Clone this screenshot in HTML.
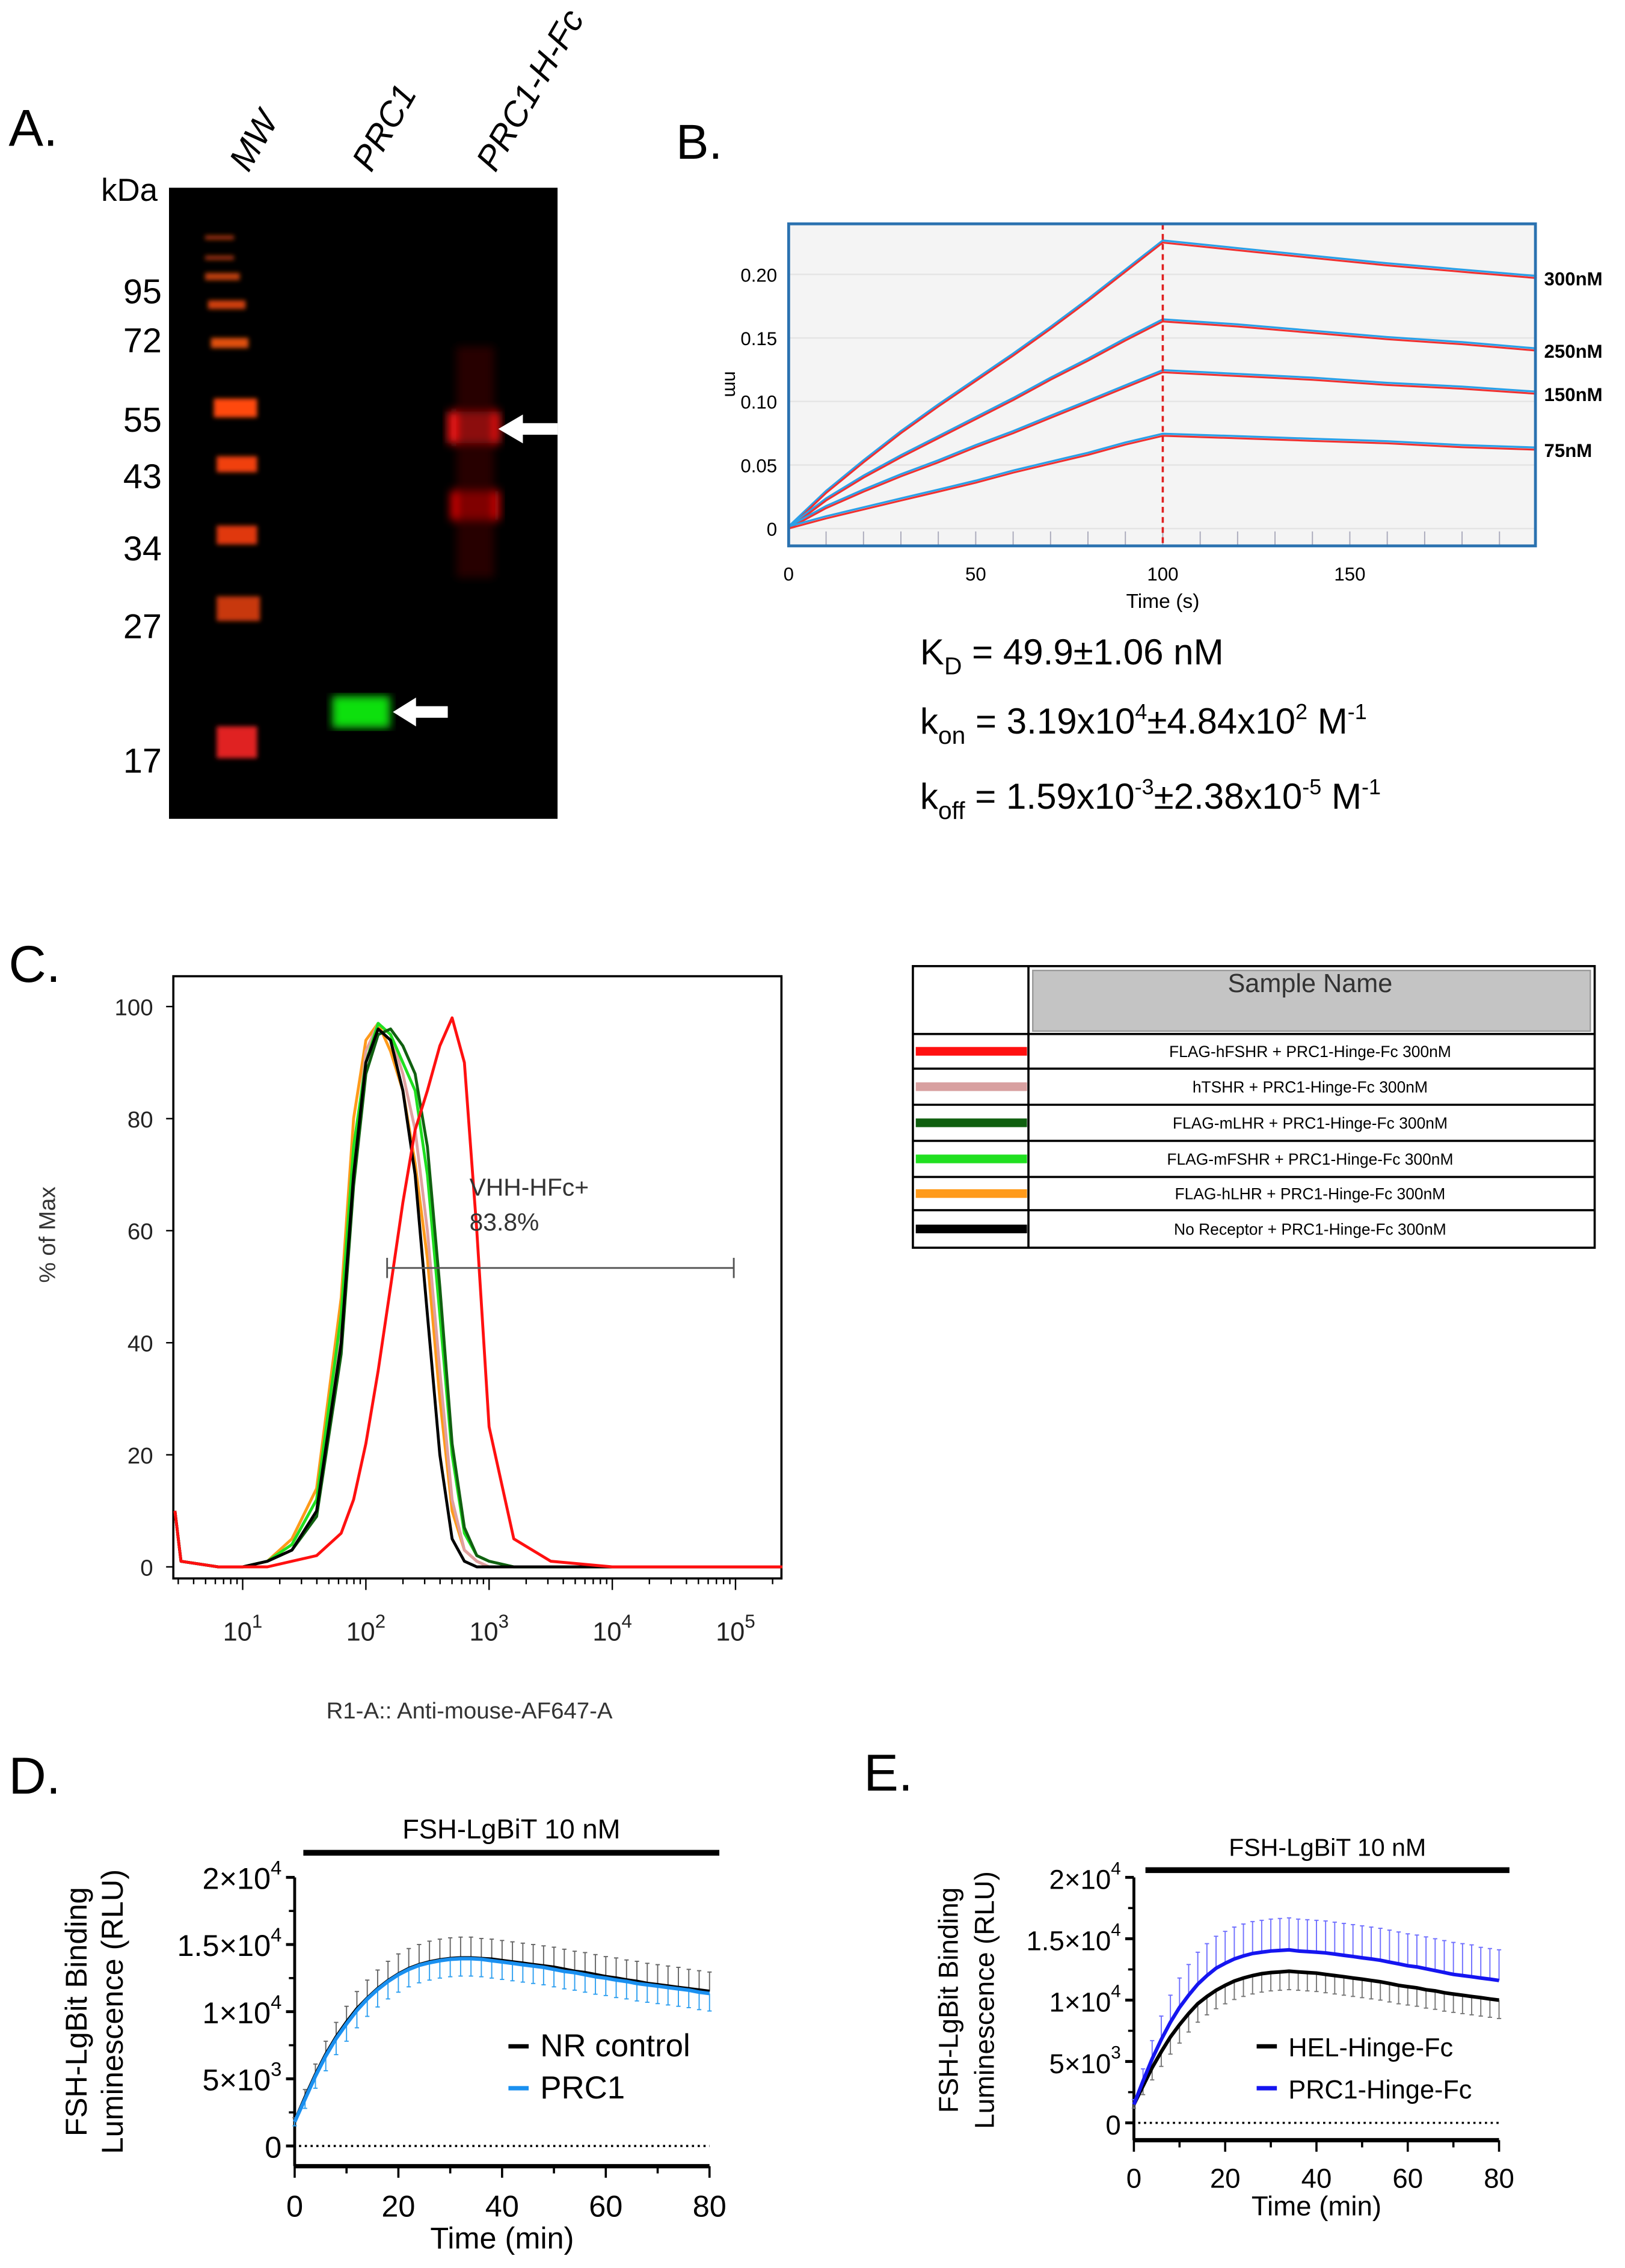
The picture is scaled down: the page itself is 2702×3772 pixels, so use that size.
<!DOCTYPE html>
<html><head><meta charset="utf-8"><style>
html,body{margin:0;padding:0;background:#fff;}
svg{display:block;}
text{font-family:"Liberation Sans",sans-serif;}
</style></head><body>
<svg id="fig" xmlns="http://www.w3.org/2000/svg" width="2702" height="3772" viewBox="0 0 1125 1570.5">
<rect width="1125" height="1570.5" fill="#fff"/>
<defs>
<filter id="blur2"><feGaussianBlur stdDeviation="3"/></filter>
<filter id="blur1"><feGaussianBlur stdDeviation="1.5"/></filter>
</defs>
<g>
<text x="6" y="101" font-size="36">A.</text>
<text x="70" y="139" font-size="22">kDa</text>
<text transform="translate(172,120) rotate(-60)" font-size="24" font-style="italic">MW</text>
<text transform="translate(257,120) rotate(-60)" font-size="24" font-style="italic">PRC1</text>
<text transform="translate(343,120) rotate(-60)" font-size="24" font-style="italic">PRC1-H-Fc</text>
<g font-size="24" text-anchor="end">
<text x="112" y="210">95</text><text x="112" y="244">72</text><text x="112" y="299">55</text><text x="112" y="338">43</text><text x="112" y="388">34</text><text x="112" y="442">27</text><text x="112" y="535">17</text>
</g>
<rect x="117" y="130" width="269" height="437" fill="#000"/>
<g filter="url(#blur1)">
<rect x="142" y="163" width="20" height="3" fill="#a03010"/>
<rect x="142" y="177" width="20" height="3" fill="#a03010"/>
<rect x="142" y="189" width="24" height="5" fill="#c04010"/>
<rect x="144" y="208" width="26" height="6" fill="#d04010"/>
<rect x="146" y="234" width="26" height="7" fill="#e05010"/>
<rect x="148" y="276" width="30" height="13" fill="#ff4810"/>
<rect x="150" y="316" width="28" height="11" fill="#f04010"/>
<rect x="150" y="364" width="28" height="13" fill="#e03810"/>
<rect x="150" y="413" width="30" height="17" fill="#c83810"/>
<rect x="150" y="503" width="28" height="22" fill="#e02020"/>
</g>
<g filter="url(#blur2)">
<rect x="310" y="285" width="36" height="22" fill="#ff1515"/>
<rect x="312" y="340" width="34" height="20" fill="#e01010"/>
<rect x="316" y="240" width="26" height="160" fill="#400000" opacity="0.6"/>
</g>
<rect x="230" y="482" width="40" height="22" fill="#10e010" filter="url(#blur2)"/>
<polygon points="345,297 362,287 362,293 386,293 386,301 362,301 362,307" fill="#fff"/>
<polygon points="272,493 288,483 288,489 310,489 310,497 288,497 288,503" fill="#fff"/>
</g>
<g id="panelB">
<text x="468" y="110" font-size="34">B.</text>
</g>
<g id="panelC">
<text x="6" y="680" font-size="36">C.</text>
</g>
<g id="legendC"></g>
<g id="panelD">
<text x="6" y="1242" font-size="36">D.</text>
</g>
<g id="panelE">
<text x="598" y="1240" font-size="36">E.</text>
</g>
</svg>
<script>
const NS='http://www.w3.org/2000/svg';
function mk(parent,tag,attrs,txt){const e=document.createElementNS(NS,tag);for(const k in attrs)e.setAttribute(k,attrs[k]);if(txt!==undefined)e.textContent=txt;parent.appendChild(e);return e;}

const bTimes=[0,10,20,30,40,50,60,70,80,90,100,120,140,160,180,200];
const b300=[0,0.028,0.052,0.075,0.096,0.116,0.136,0.157,0.179,0.202,0.225,0.219,0.213,0.207,0.202,0.197];
const b250=[0,0.022,0.040,0.056,0.071,0.086,0.101,0.117,0.132,0.148,0.163,0.159,0.154,0.149,0.145,0.140];
const b150=[0,0.016,0.029,0.041,0.052,0.064,0.075,0.087,0.099,0.111,0.123,0.120,0.117,0.113,0.110,0.106];
const b75=[0,0.008,0.015,0.022,0.029,0.036,0.044,0.051,0.058,0.066,0.073,0.071,0.069,0.067,0.064,0.062];
const bSeriesLabels=['300nM','250nM','150nM','75nM'];
const bYTicks=[0,0.05,0.10,0.15,0.20];
const bYTickLabels=['0','0.05','0.10','0.15','0.20'];
const bXTicks=[0,50,100,150];

const cLogX=[0.45,0.5,0.8,1.0,1.2,1.4,1.6,1.8,1.9,2.0,2.1,2.2,2.3,2.4,2.5,2.6,2.7,2.8,2.9,3.0,3.2,3.5,4,5,5.38];
const cBlack=[10,1,0,0,1,3,10,40,70,90,96,94,85,70,45,20,5,1,0,0,0,0,0,0,0];
const cGreen=[10,1,0,0,1,4,12,45,75,90,97,95,90,85,70,45,20,6,2,1,0,0,0,0,0];
const cDkGreen=[10,1,0,0,1,3,9,38,68,88,95,96,93,88,75,50,22,7,2,1,0,0,0,0,0];
const cPink=[10,1,0,0,1,4,12,44,72,92,97,95,88,78,60,35,12,3,1,0,0,0,0,0,0];
const cOrange=[10,1,0,0,1,5,14,48,80,94,97,92,85,72,55,30,10,3,1,0,0,0,0,0,0];
const cRed=[10,1,0,0,0,1,2,6,12,22,35,50,65,78,85,93,98,90,60,25,5,1,0,0,0];
const cYTicks=[0,20,40,60,80,100];
const cXDecades=[1,2,3,4,5];
const cLegendNames=['FLAG-hFSHR + PRC1-Hinge-Fc 300nM','hTSHR + PRC1-Hinge-Fc 300nM','FLAG-mLHR + PRC1-Hinge-Fc 300nM','FLAG-mFSHR + PRC1-Hinge-Fc 300nM','FLAG-hLHR + PRC1-Hinge-Fc 300nM','No Receptor + PRC1-Hinge-Fc 300nM'];

const dTimes=[0,2,4,6,8,10,12,14,16,18,20,22,24,26,28,30,32,34,36,38,40,42,44,46,48,50,52,54,56,58,60,62,64,66,68,70,72,74,76,78,80];
const dNR=[1800,3600,5300,6800,8100,9200,10200,11000,11700,12300,12800,13200,13500,13700,13850,13950,14000,14000,13950,13900,13800,13700,13600,13500,13400,13300,13150,13000,12900,12750,12600,12500,12350,12250,12100,12000,11900,11800,11700,11600,11500];
const dNRsd=[300,600,800,1000,1100,1200,1300,1350,1400,1450,1500,1500,1500,1550,1550,1550,1550,1550,1500,1500,1500,1500,1500,1500,1500,1500,1500,1500,1500,1500,1500,1500,1500,1500,1500,1500,1500,1500,1450,1450,1450];
const dPRC=[1800,3500,5200,6700,8000,9100,10100,10950,11650,12250,12750,13150,13450,13650,13800,13900,13950,13950,13900,13800,13700,13600,13500,13400,13300,13150,13000,12900,12750,12600,12500,12350,12250,12100,12000,11900,11800,11700,11600,11450,11350];
const dPRCsd=[300,700,900,1100,1200,1300,1300,1300,1300,1300,1300,1300,1300,1300,1300,1300,1300,1300,1300,1300,1300,1300,1300,1300,1300,1300,1300,1300,1300,1300,1300,1300,1300,1300,1300,1300,1300,1300,1300,1300,1300];
const yTicksDE=[0,5000,10000,15000,20000];
const yTickLabelsDE=[['0',''],['5×10','3'],['1×10','4'],['1.5×10','4'],['2×10','4']];
const xTicksDE=[0,20,40,60,80];

const eTimes=dTimes;
const eHEL=[1500,3000,4500,5800,7000,8000,8900,9700,10300,10800,11200,11550,11800,12000,12150,12250,12300,12350,12300,12250,12200,12100,12000,11900,11800,11700,11600,11500,11350,11200,11100,11000,10850,10750,10600,10500,10400,10300,10200,10100,10000];
const eHELsd=[300,700,1000,1200,1400,1500,1500,1500,1500,1500,1500,1500,1500,1500,1500,1500,1500,1500,1500,1500,1500,1500,1500,1500,1500,1500,1500,1500,1500,1500,1500,1500,1500,1500,1500,1500,1500,1500,1500,1500,1500];
const ePRC=[1500,3400,5200,6800,8200,9400,10400,11300,12000,12600,13000,13350,13600,13800,13900,14000,14050,14100,14000,13950,13900,13850,13750,13650,13550,13450,13350,13250,13100,12950,12800,12700,12550,12400,12250,12100,12000,11900,11800,11700,11600];
const ePRCsd=[400,1000,1500,1900,2200,2400,2500,2600,2600,2600,2600,2600,2600,2600,2600,2600,2600,2600,2600,2600,2600,2600,2600,2600,2600,2600,2600,2600,2600,2600,2600,2600,2600,2600,2600,2600,2600,2600,2500,2500,2500];

(function(){
const g=document.getElementById('panelB');
const X0=546,X1=1063,Y0=155,Y1=378;
const xs=t=>546+t*2.59, ys=v=>366-v*880;
const bg=mk(g,'rect',{x:X0,y:Y0,width:X1-X0,height:Y1-Y0,fill:'#f4f4f4'});

bYTicks.forEach((v,i)=>{
  const l=mk(g,'line',{x1:X0,x2:X1,y1:ys(v),y2:ys(v),stroke:'#e4e4e4','stroke-width':1});
  
  const t=mk(g,'text',{x:538,y:ys(v)+5,'font-size':13,'text-anchor':'end'},bYTickLabels[i]);
  
});
bXTicks.forEach(v=>{
  const t=mk(g,'text',{x:xs(v),y:402,'font-size':13,'text-anchor':'middle'},String(v));
  
});
for(let t=10;t<200;t+=10){const l=mk(g,'line',{x1:xs(t),x2:xs(t),y1:Y1-10,y2:Y1,stroke:'#aab',"stroke-width":0.8});}
const xt=mk(g,'text',{x:805,y:421,'font-size':14,'text-anchor':'middle'},'Time (s)');
const yt=mk(g,'text',{transform:'translate(502,266) rotate(90)','font-size':13,'text-anchor':'middle'},'nm');
const series=[b300,b250,b150,b75];
series.forEach((s,k)=>{
  let pb='',pr='';
  s.forEach((v,i)=>{const x=xs(bTimes[i]),y=ys(v);pr+=(i?'L':'M')+x.toFixed(1)+','+y.toFixed(1);pb+=(i?'L':'M')+x.toFixed(1)+','+(y-1.5).toFixed(1);});
  const b=mk(g,'path',{d:pb,fill:'none',stroke:'#2aa0e8','stroke-width':1.4});
  const r=mk(g,'path',{d:pr,fill:'none',stroke:'#f03030','stroke-width':1.3});
  const lt=mk(g,'text',{x:1069,y:ys(s[s.length-1])+5,'font-size':13,'font-weight':'bold'},bSeriesLabels[k]);
});
const vl=mk(g,'line',{x1:xs(100),x2:xs(100),y1:Y0,y2:Y1,stroke:'#e02020','stroke-width':1.5,'stroke-dasharray':'4,3'});
const fr=mk(g,'rect',{x:X0,y:Y0,width:X1-X0,height:Y1-Y0,fill:'none',stroke:'#2b72b0','stroke-width':2});
const ys2=[460,508,560];
const rows=[
 [['K'],['D','sub'],[' = 49.9±1.06 nM']],
 [['k'],['on','sub'],[' = 3.19x10'],['4','sup'],['±4.84x10'],['2','sup'],[' M'],['-1','sup']],
 [['k'],['off','sub'],[' = 1.59x10'],['-3','sup'],['±2.38x10'],['-5','sup'],[' M'],['-1','sup']]];
const names=['kd-value','kon-value','koff-value'];
rows.forEach((r,i)=>{
  const t=mk(g,'text',{x:637,y:ys2[i],'font-size':25});
  r.forEach(p=>{const a={};if(p[1]==='sub'){a.dy=7;a['font-size']=17;}else if(p[1]==='sup'){a.dy=-10;a['font-size']=15;}
    mk(t,'tspan',a,p[0]);
    if(p[1]){mk(t,'tspan',{dy:(p[1]==='sub'?-7:10)},'\u200b');}
  });
});
})();

(function(){
const g=document.getElementById('panelC');
const X0=120,X1=541,Y0=676,Y1=1093;
const xs=l=>168+(l-1)*85.3, ys=v=>1085-v*3.88;
const fr=mk(g,'rect',{x:X0,y:Y0,width:X1-X0,height:Y1-Y0,fill:'none',stroke:'#000','stroke-width':1.5});
cYTicks.forEach(v=>{
  const t=mk(g,'text',{x:106,y:ys(v)+6,'font-size':16,'text-anchor':'end',fill:'#222'},String(v));
  const l=mk(g,'line',{x1:X0-5,x2:X0,y1:ys(v),y2:ys(v),stroke:'#000'});
});
cXDecades.forEach(d=>{
  const t=mk(g,'text',{x:xs(d),y:1136,'font-size':18,'text-anchor':'middle',fill:'#222'});
  mk(t,'tspan',{},'10');mk(t,'tspan',{dy:-9,'font-size':13},String(d));
});
for(let d=0;d<=5;d++){for(let m=1;m<10;m++){const l=d+Math.log10(m);const x=xs(l);if(x<X0||x>X1)continue;
  const tk=mk(g,'line',{x1:x,x2:x,y1:Y1,y2:Y1+(m===1?8:4),stroke:'#000'});}}
const yt=mk(g,'text',{transform:'translate(38,855) rotate(-90)','font-size':16,'text-anchor':'middle',fill:'#333'},'% of Max');
const xt=mk(g,'text',{x:325,y:1190,'font-size':16,'text-anchor':'middle',fill:'#333'},'R1-A:: Anti-mouse-AF647-A');
const series=[[cOrange,'#ff9a1a','hist-flag-hlhr'],[cPink,'#e0a0a0','hist-htshr'],[cGreen,'#20e020','hist-flag-mfshr'],[cDkGreen,'#106010','hist-flag-mlhr'],[cBlack,'#000','hist-no-receptor'],[cRed,'#ff1010','hist-flag-hfshr']];
series.forEach(s=>{
  let d='';s[0].forEach((v,i)=>{d+=(i?'L':'M')+Math.max(X0,xs(cLogX[i])).toFixed(1)+','+ys(v).toFixed(1);});
  const p=mk(g,'path',{d:d,fill:'none',stroke:s[1],'stroke-width':2,'stroke-linejoin':'round'});
});
const gl=mk(g,'line',{x1:268,x2:508,y1:878,y2:878,stroke:'#555','stroke-width':1.2});
[268,508].forEach(x=>{const e=mk(g,'line',{x1:x,x2:x,y1:871,y2:885,stroke:'#555','stroke-width':1.2});});
const g1=mk(g,'text',{x:325,y:828,'font-size':17,fill:'#333'},'VHH-HFc+');
const g2=mk(g,'text',{x:325,y:852,'font-size':17,fill:'#333'},'83.8%');

const L=document.getElementById('legendC');
const colors=['#ff1010','#d8a0a0','#106010','#20e020','#ff9a1a','#000'];
const rowY=[716,740,765,790,815,838,864];
const o=mk(L,'rect',{x:632,y:669,width:472,height:195,fill:'#fff',stroke:'#000','stroke-width':1.5});
const hb=mk(L,'rect',{x:715,y:672,width:386,height:42,fill:'#c4c4c4',stroke:'#999'});
const ht=mk(L,'text',{x:907,y:687,'font-size':18,'text-anchor':'middle',fill:'#333'},'Sample Name');
const vl=mk(L,'line',{x1:712,x2:712,y1:669,y2:864,stroke:'#000','stroke-width':1.5});
cLegendNames.forEach((n,i)=>{
  const y0=rowY[i],y1=rowY[i+1];
  const hl=mk(L,'line',{x1:632,x2:1104,y1:y0,y2:y0,stroke:'#000','stroke-width':1.5});
  const sw=mk(L,'rect',{x:634,y:(y0+y1)/2-3,width:77,height:6,fill:colors[i]});
  const t=mk(L,'text',{x:907,y:(y0+y1)/2+4,'font-size':11,'text-anchor':'middle'},n);
});
})();

function timecourse(gid,cfg){
const g=document.getElementById(gid);
const xs=t=>cfg.x0+t*cfg.xk, ys=v=>cfg.y0-v*cfg.yk/1000;
const ax=mk(g,'line',{x1:cfg.x0,x2:cfg.x0,y1:ys(20000),y2:cfg.axY,stroke:'#000','stroke-width':2});
const bx=mk(g,'line',{x1:cfg.x0,x2:xs(80),y1:cfg.axY,y2:cfg.axY,stroke:'#000','stroke-width':3});
yTicksDE.forEach((v,i)=>{
  const l=mk(g,'line',{x1:cfg.x0-6,x2:cfg.x0,y1:ys(v),y2:ys(v),stroke:'#000','stroke-width':2});
  const t=mk(g,'text',{x:cfg.x0-9,y:ys(v)+8,'font-size':cfg.fs,'text-anchor':'end'});
  mk(t,'tspan',{},yTickLabelsDE[i][0]);if(yTickLabelsDE[i][1])mk(t,'tspan',{dy:-10,'font-size':cfg.fs*0.65},yTickLabelsDE[i][1]);
  if(v<20000){const m=mk(g,'line',{x1:cfg.x0-4,x2:cfg.x0,y1:ys(v+2500),y2:ys(v+2500),stroke:'#000','stroke-width':1.5});}
});
for(let t=0;t<=80;t+=10){const l=mk(g,'line',{x1:xs(t),x2:xs(t),y1:cfg.axY,y2:cfg.axY+(t%20?5:8),stroke:'#000','stroke-width':1.5});}
xTicksDE.forEach(v=>{const t=mk(g,'text',{x:xs(v),y:cfg.axY+cfg.fs+14,'font-size':cfg.fs,'text-anchor':'middle'},String(v));});
const xt=mk(g,'text',{x:xs(40),y:cfg.xtY,'font-size':cfg.fs,'text-anchor':'middle'},'Time (min)');
const cy=ys(10000);
const y1=mk(g,'text',{transform:'translate('+cfg.ytX+','+cy+') rotate(-90)','font-size':cfg.fs,'text-anchor':'middle'},'FSH-LgBit Binding');
const y2=mk(g,'text',{transform:'translate('+(cfg.ytX+25)+','+cy+') rotate(-90)','font-size':cfg.fs,'text-anchor':'middle'},'Luminescence (RLU)');
const dl=mk(g,'line',{x1:xs(0)+3,x2:xs(80),y1:ys(0),y2:ys(0),stroke:'#000','stroke-width':1.5,'stroke-dasharray':'1.5,2.5'});
const tb=mk(g,'line',{x1:cfg.barX0,x2:cfg.barX1,y1:cfg.barY,y2:cfg.barY,stroke:'#000','stroke-width':4});
const tt=mk(g,'text',{x:(cfg.barX0+cfg.barX1)/2,y:cfg.barY-10,'font-size':cfg.fs*0.9,'text-anchor':'middle'},'FSH-LgBiT 10 nM');
cfg.series.forEach(s=>{
  s.mean.forEach((v,i)=>{
    const x=xs(cfg.times[i]);const yE=ys(v+s.dir*s.sd[i]);
    const e=mk(g,'line',{x1:x,x2:x,y1:ys(v),y2:yE,stroke:s.err,'stroke-width':0.8});
    const c=mk(g,'line',{x1:x-1.5,x2:x+1.5,y1:yE,y2:yE,stroke:s.err,'stroke-width':0.8});
  });
});
cfg.series.forEach(s=>{
  let d='';s.mean.forEach((v,i)=>{d+=(i?'L':'M')+xs(cfg.times[i]).toFixed(1)+','+ys(v).toFixed(1);});
  const p=mk(g,'path',{d:d,fill:'none',stroke:s.color,'stroke-width':2.5});
});
cfg.series.forEach((s,k)=>{
  const ly=cfg.legY[k];
  const l=mk(g,'line',{x1:cfg.legX,x2:cfg.legX+14,y1:ly,y2:ly,stroke:s.color,'stroke-width':3});
  const t=mk(g,'text',{x:cfg.legX+22,y:ly+7,'font-size':cfg.legFs},s.label);
});
}
timecourse('panelD',{x0:204,xk:3.59,y0:1486,yk:9.3,axY:1500,fs:21,xtY:1557,ytX:60,barX0:210,barX1:498,barY:1283,times:dTimes,legX:352,legY:[1417,1446],legFs:22,
 series:[{name:'nr-control',label:'NR control',mean:dNR,sd:dNRsd,dir:1,color:'#000',err:'#666'},{name:'prc1',label:'PRC1',mean:dPRC,sd:dPRCsd,dir:-1,color:'#1a90f0',err:'#30a0f0'}]});
timecourse('panelE',{x0:785,xk:3.16,y0:1470,yk:8.5,axY:1482,fs:19,xtY:1534,ytX:663,barX0:793,barX1:1045,barY:1295,times:eTimes,legX:870,legY:[1417,1446],legFs:18,
 series:[{name:'hel-hinge-fc',label:'HEL-Hinge-Fc',mean:eHEL,sd:eHELsd,dir:-1,color:'#000',err:'#777'},{name:'prc1-hinge-fc',label:'PRC1-Hinge-Fc',mean:ePRC,sd:ePRCsd,dir:1,color:'#1515f0',err:'#7070ff'}]});
</script>
</body></html>
